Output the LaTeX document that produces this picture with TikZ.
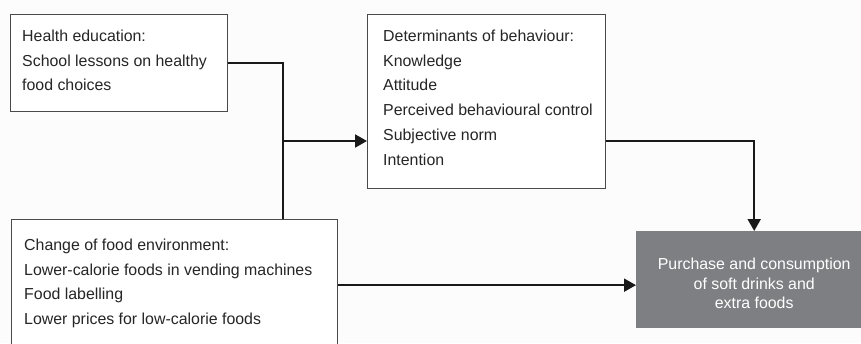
\documentclass[tikz,border=0pt]{standalone}
\usepackage{fontspec}
\setmainfont{Liberation Sans}
\usetikzlibrary{arrows.meta,calc}
\definecolor{boxline}{HTML}{4A4A4A}
\definecolor{darkfill}{HTML}{7E7F83}
\definecolor{bg}{HTML}{FCFCFC}
\tikzset{
  box/.style={draw=boxline, line width=1.3pt, fill=white, rectangle, inner sep=0pt, anchor=north west},
  txt/.style={align=left, inner sep=0pt, anchor=north west, font=\fontsize{15.9}{24.8}\selectfont, text=black!85},
  conn/.style={line width=2pt, draw=black!90},
  arr/.style={conn, -{Triangle[length=12pt,width=13pt]}},
}
\begin{document}
\begin{tikzpicture}[x=1pt,y=-1pt]
\fill[bg] (0,0) rectangle (861,343);
\useasboundingbox (0,0) rectangle (861,343);
% boxes
\node[box, minimum width=217pt, minimum height=97pt] (a) at (10,14) {};
\node[box, minimum width=238pt, minimum height=174pt] (b) at (367,14) {};
\node[box, minimum width=326pt, minimum height=131pt] (c) at (11,219) {};
\node[rectangle, fill=darkfill, inner sep=0pt, anchor=north west, minimum width=236pt, minimum height=97pt] (d) at (636,231) {};
% texts
\node[txt] (ta) at (22,29.5) {Health education:\\School lessons on healthy\\food choices};
\node[txt] (tb) at (383,29.5) {Determinants of behaviour:\\Knowledge\\Attitude\\Perceived behavioural control\\Subjective norm\\Intention};
\node[txt] (tc) at (24,238.5) {Change of food environment:\\Lower-calorie foods in vending machines\\Food labelling\\Lower prices for low-calorie foods};
\node[text=white, align=center, inner sep=0pt, font=\fontsize{15.9}{19.4}\selectfont] (td) at ($(d.center)+(0,4)$)
      {Purchase and consumption\\of soft drinks and\\extra foods};
% connectors
\coordinate (j) at (283,141);
\draw[conn] (a.east) -| (j |- c.north);
\draw[arr] (j) -- (j -| b.west);
\draw[arr] (b.east |- j) -| (d.north);
\draw[arr] (c.east) -- (c.east -| d.west);
\end{tikzpicture}
\end{document}
